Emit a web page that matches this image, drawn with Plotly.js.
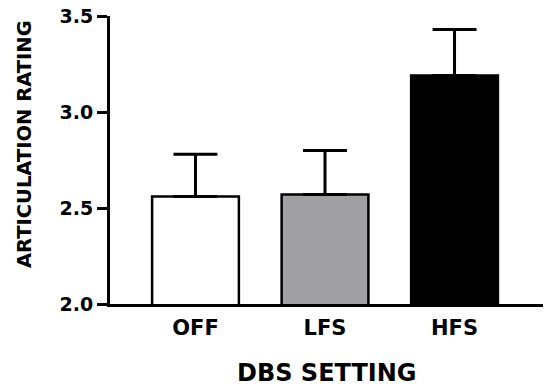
<!DOCTYPE html>
<html>
<head>
<meta charset="utf-8">
<script src="https://cdn.plot.ly/plotly-3.0.1.min.js"></script>
<style>html,body{margin:0;padding:0;background:#fff;}#chart{width:550px;height:390px;}</style>
</head>
<body>
<div id="chart"></div>
<script>
const categories = ["OFF", "LFS", "HFS"];
const means = [2.56, 2.57, 3.19];
const errorsUp = [0.22, 0.23, 0.24];
const barColors = ["#ffffff", "#a0a0a4", "#000000"];
const yTicks = [2.0, 2.5, 3.0, 3.5];
const yTickLabels = ["2.0", "2.5", "3.0", "3.5"];

const trace = {
  type: "bar",
  x: [0, 1, 2],
  y: means,
  base: 0,
  width: 0.67,
  marker: { color: barColors, line: { color: "#000", width: 2.5 } },
  error_y: { type: "data", symmetric: false, array: errorsUp, arrayminus: [0, 0, 0], color: "#000", thickness: 3, width: 22 },
  hoverinfo: "none"
};

const layout = {
  width: 550, height: 390,
  margin: { l: 110, r: 7, t: 16, b: 86 },
  paper_bgcolor: "#fff", plot_bgcolor: "#fff",
  showlegend: false,
  font: { family: "DejaVu Sans", color: "#000" },
  xaxis: {
    range: [-0.66, 2.683],
    tickmode: "array", tickvals: [0, 1, 2], ticktext: categories,
    showline: true, linecolor: "#000", linewidth: 3,
    showgrid: false, zeroline: false, ticks: "",
    tickfont: { family: "DejaVu Sans", size: 21, weight: "bold", color: "#000" },
    ticklabelstandoff: 3,
    fixedrange: true
  },
  yaxis: {
    range: [2.0, 3.5],
    tickmode: "array", tickvals: yTicks, ticktext: yTickLabels,
    showline: true, linecolor: "#000", linewidth: 3,
    showgrid: false, zeroline: false,
    ticks: "outside", ticklen: 10, tickwidth: 3, tickcolor: "#000",
    tickfont: { family: "DejaVu Sans", size: 19, weight: "bold", color: "#000" },
    fixedrange: true
  },
  annotations: [
    { text: "ARTICULATION RATING", xref: "paper", yref: "paper", x: (24 - 110) / 433, y: (304 - 144) / 288,
      xanchor: "center", yanchor: "middle", textangle: -90, showarrow: false,
      font: { family: "DejaVu Sans", size: 19.5, weight: "bold", color: "#000" } },
    { text: "DBS SETTING", xref: "paper", yref: "paper", x: 0.5, y: (304 - 373) / 288,
      xanchor: "center", yanchor: "middle", showarrow: false,
      font: { family: "DejaVu Sans", size: 24, weight: "bold", color: "#000" } }
  ]
};

Plotly.newPlot("chart", [trace], layout, { staticPlot: true, displayModeBar: false });
</script>
</body>
</html>
